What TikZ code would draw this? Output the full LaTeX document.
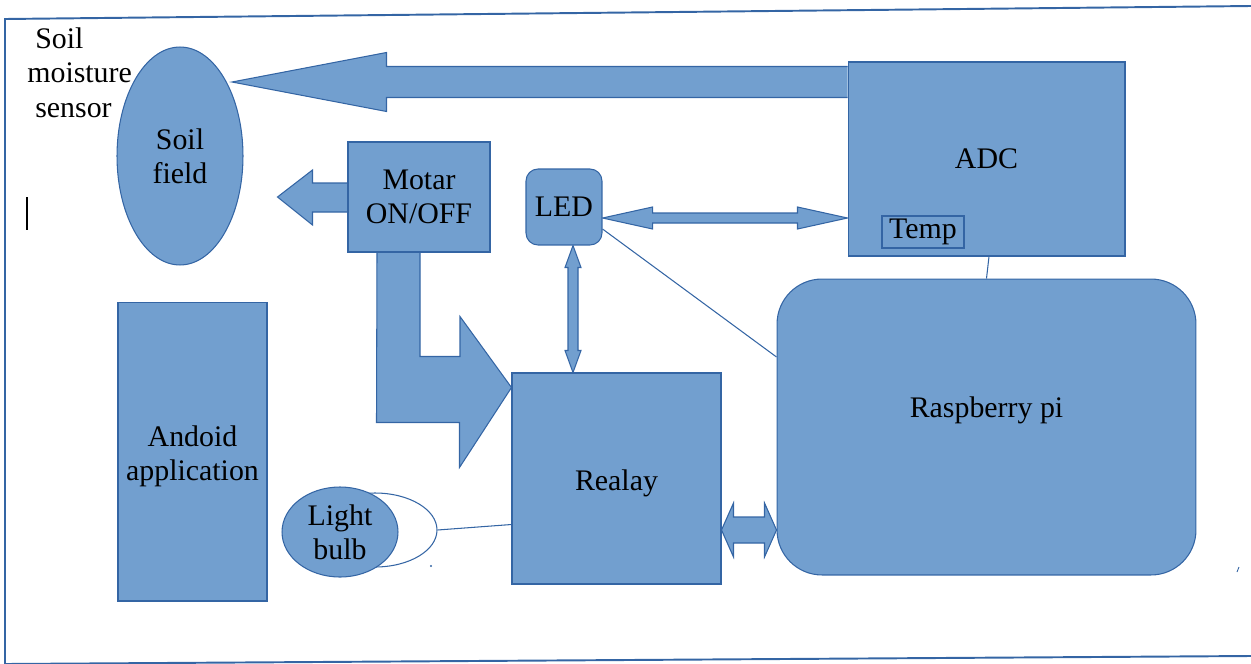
\documentclass[tikz,border=0pt]{standalone}
\usepackage{fontspec}
\setmainfont{Liberation Serif}
\usetikzlibrary{calc,shapes.geometric}
\definecolor{bfill}{HTML}{729FCF}
\definecolor{bline}{HTML}{3465A4}
\pgfdeclarelayer{bg}
\pgfsetlayers{bg,main}
\begin{document}
\begin{tikzpicture}[x=0.02cm,y=-0.02cm,
  every node/.style={font=\fontsize{17pt}{19.6pt}\selectfont, text=black},
  blk/.style={draw=bline, fill=bfill, line width=0.6pt, inner sep=0pt, align=center},
  conn/.style={draw=bline, line width=0.6pt},
  barrow/.style={draw=bline, fill=bfill, line width=0.6pt, line join=miter}]
\useasboundingbox (0,0) rectangle (1251,663);
% frame
\draw[bline, line width=1.1pt] (1251,6) -- (5,19) -- (5,664) -- (1251,656);
% nodes
\node[blk, ellipse, minimum width=2.52cm, minimum height=4.36cm] (soil) at (180,156) {Soil\\field};
\node[blk, minimum width=5.54cm, minimum height=3.88cm] (adc) at (986.5,159) {ADC};
\node[blk, minimum width=1.64cm, minimum height=0.64cm] (temp) at (923,232) {Temp};
\node[blk, minimum width=2.84cm, minimum height=2.2cm] (motor) at (419,197) {Motar\\ON/OFF};
\node[blk, rounded corners=0.24cm, minimum width=1.52cm, minimum height=1.52cm] (led) at (564,207) {LED};
\node[blk, rounded corners=0.9cm, minimum width=8.38cm, minimum height=5.92cm] (rpi) at (986.5,427) {\raisebox{0.33cm}[\height][\depth]{Raspberry pi}};
\node[blk, minimum width=4.18cm, minimum height=4.22cm] (relay) at (616.5,478.5) {\raisebox{-0.1cm}[\height][\depth]{Realay}};
\node[blk, minimum width=2.98cm, minimum height=5.98cm] (android) at (192.5,451.5) {\raisebox{-0.1cm}[\height][\depth]{\begin{tabular}{@{}c@{}}Andoid\\application\end{tabular}}};
\node[draw=bline, line width=0.6pt, ellipse, minimum width=2.48cm, minimum height=1.48cm, inner sep=0pt] (bulbring) at (375,530) {};
\node[blk, ellipse, minimum width=2.32cm, minimum height=1.8cm] (bulb) at (340,532) {Light\\bulb};
% labels
\node[anchor=base west, inner sep=0pt] (lbl1) at (35,48) {Soil};
\node[anchor=base west, inner sep=0pt] (lbl2) at (27,82) {moisture};
\node[anchor=base west, inner sep=0pt] (lbl3) at (35,117) {sensor};
% cursor and marks
\draw[black, line width=0.06cm] (27,197) -- (27,230);
\fill[bline] (431,566) circle (1.2);
\draw[bline, line width=0.5pt] (1237,572) -- (1239,567);
\begin{pgfonlayer}{bg}
% big arrow ADC -> soil field
\coordinate (soiltip) at ($(soil.center)+(52,-74)$);
\draw[barrow] ($(adc.north west)+(0,5)$) -- ++(-461,0) -- ++(0,-14) -- (soiltip) -- ($(adc.north west)+(-461,50)$) -- ++(0,-14) -- ($(adc.north west)+(0,36)$);
% motor -> left
\coordinate (mtip) at ($(motor.west)+(-70,0)$);
\draw[barrow] ($(motor.west)+(0,-14)$) -- ++(-35,0) -- ++(0,-13) -- (mtip) -- ($(motor.west)+(-35,28)$) -- ++(0,-13) -- ($(motor.west)+(0,15)$);
% motor -> relay (L arrow)
\coordinate (rtip) at ($(relay.north west)+(0,15)$);
\draw[barrow] ($(motor.south)+(1,0)$) -- ++(0,104) -- ++(40,0) -- ++(0,-40) -- (rtip) -- ++(-52,80) -- ++(0,-45) -- ++(-83,0) -- ($(motor.south)+(-42,0)$);
% LED <-> ADC
\coordinate (la) at ($(led.east)+(0,11)$);
\coordinate (lb) at (la -| adc.west);
\draw[barrow] (la) -- ++(50,-11) -- ++(0,6) -- ($(lb)+(-50,-5)$) -- ++(0,-6) -- (lb) -- ++(-50,11) -- ++(0,-6) -- ($(la)+(50,5)$) -- ++(0,6) -- cycle;
% LED <-> relay
\coordinate (va) at ($(led.south)+(9,0)$);
\coordinate (vb) at (va |- relay.north);
\draw[barrow] (va) -- ++(8,22) -- ++(-3,0) -- ($(vb)+(5,-22)$) -- ++(3,0) -- (vb) -- ++(-8,-22) -- ++(3,0) -- ($(va)+(-5,22)$) -- ++(-3,0) -- cycle;
% relay <-> raspberry pi
\coordinate (ha) at ($(relay.east)+(0,51.5)$);
\coordinate (hb) at (ha -| rpi.west);
\draw[barrow] (ha) -- ++(12,-27) -- ++(0,14) -- ($(hb)+(-12,-13)$) -- ++(0,-14) -- (hb) -- ++(-12,27) -- ++(0,-14) -- ($(ha)+(12,13)$) -- ++(0,14) -- cycle;
% thin lines
\draw[conn] ($(led.east)+(0,22)$) -- ($(rpi.west)+(0,-70)$);
\draw[conn] ($(adc.south)+(2.5,0)$) -- (rpi.north);
\draw[conn] (bulbring.east) -- ($(relay.west)+(0,46)$);
\end{pgfonlayer}
\end{tikzpicture}
\end{document}
